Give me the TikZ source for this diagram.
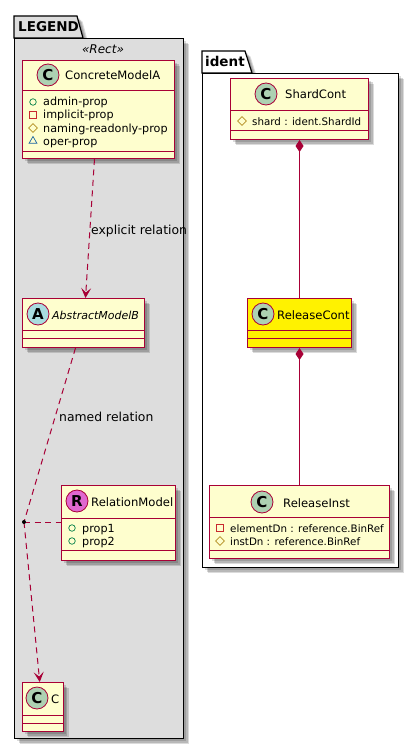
\documentclass[tikz,border=0pt]{standalone}
\usepackage{fontspec}
\setmainfont{DejaVu Sans}
\usepackage{xcolor}
\usetikzlibrary{arrows.meta,positioning,calc,shapes.geometric,shadows}
\definecolor{umlred}{HTML}{A80036}
\definecolor{umlcream}{HTML}{FEFECE}
\definecolor{pkggray}{HTML}{DDDDDD}
\definecolor{spotgreen}{HTML}{ADD1B2}
\definecolor{spotblue}{HTML}{A9DCDF}
\definecolor{spotpink}{HTML}{DF68CF}
\definecolor{iconpublic}{HTML}{038048}
\definecolor{iconprivate}{HTML}{C82930}
\definecolor{iconprotected}{HTML}{B38D22}
\definecolor{iconpackage}{HTML}{1963A0}
\tikzset{
  softshadow/.style={
    drop shadow={shadow xshift=5.5pt,shadow yshift=-5.5pt,fill=black,opacity=.14},
    drop shadow={shadow xshift=4pt,shadow yshift=-4pt,fill=black,opacity=.16},
    drop shadow={shadow xshift=2.5pt,shadow yshift=-2.5pt,fill=black,opacity=.14}},
  pkgbox/.style={draw=black,line width=1.2pt,inner sep=0pt,anchor=north west,softshadow},
  pkgtab/.style={draw=black,line width=1.2pt,softshadow},
  pkgtitle/.style={anchor=base west,inner sep=0pt,font=\fontsize{13.5}{16}\selectfont\bfseries},
  classbox/.style={draw=umlred,fill=umlcream,line width=1pt,inner sep=0pt,anchor=north west,softshadow},
  classline/.style={draw=umlred,line width=1pt},
  spot/.style={circle,draw=umlred,line width=.8pt,minimum size=22pt,inner sep=0pt,fill=spotgreen,
    font=\fontsize{15}{17}\selectfont\bfseries},
  classtitle/.style={anchor=base west,inner sep=0pt,font=\fontsize{11.6}{14}\selectfont},
  membertext/.style={anchor=base west,inner sep=0pt,font=\fontsize{11.2}{13}\selectfont},
  reftext/.style={font=\fontsize{10.3}{13}\selectfont},
  rellabel/.style={anchor=base west,inner sep=0pt,font=\fontsize{12.4}{15}\selectfont},
  iconplus/.style={circle,draw=iconpublic,line width=.7pt,minimum size=6.5pt,inner sep=0pt},
  iconminus/.style={rectangle,draw=iconprivate,line width=.7pt,minimum size=6.5pt,inner sep=0pt},
  iconhash/.style={diamond,draw=iconprotected,line width=.7pt,minimum size=9pt,inner sep=0pt},
  icontilde/.style={regular polygon,regular polygon sides=3,draw=iconpackage,line width=.7pt,
    minimum size=9pt,inner sep=0pt},
  reldash/.style={draw=umlred,line width=1pt,dash pattern=on 6pt off 4.5pt},
  relarrow/.style={reldash,-{Stealth[length=10pt,width=10pt,inset=4.5pt,umlred]}},
  relcompose/.style={draw=umlred,line width=1pt,{Diamond[length=12pt,width=8pt,umlred,fill=umlred]}-},
  reldot/.style={circle,fill=black,minimum size=4pt,inner sep=0pt}
}
\newcommand{\sepline}[2]{\draw[classline] (#1.west |- 0,#2) -- (#1.east |- 0,#2);}
\newcommand{\memberrow}[6][]{
  \node[#2] (#3icon) at (#4,#5) {};
  \node[membertext,#1] (#3) at (#4+10,#5+4) {#6};
}
\begin{document}
\begin{tikzpicture}[x=1pt,y=-1pt]
  \useasboundingbox (0,0) rectangle (418,749);

  % LEGEND package
  \path[pkgtab,fill=pkggray] (14,38) -- (14,16) -- (77,16) -- (83,38) -- cycle;
  \node[pkgbox,fill=pkggray,minimum width=169pt,minimum height=700pt] (legend) at (14,38) {};
  \node[pkgtitle] (legendtitle) at (18,32) {LEGEND};
  \node[anchor=base,inner sep=0pt,font=\fontsize{12}{14}\selectfont\itshape] (legendstereo) at (103,54) {«Rect»};

  \node[classbox,minimum width=152pt,minimum height=98pt] (concrete) at (22,60) {};
  \sepline{concrete}{91}
  \sepline{concrete}{151}
  \node[spot] (concretespot) at (48,75) {C};
  \node[classtitle] (concretetitle) at (65,80) {ConcreteModelA};
  \memberrow{iconplus}{adminprop}{33}{102}{admin-prop}
  \memberrow{iconminus}{implicitprop}{33}{115}{implicit-prop}
  \memberrow{iconhash}{namingprop}{33}{128}{naming-readonly-prop}
  \memberrow{icontilde}{operprop}{33}{141}{oper-prop}

  \node[classbox,minimum width=122pt,minimum height=49pt] (abstract) at (22,298) {};
  \sepline{abstract}{330}
  \sepline{abstract}{338}
  \node[spot,fill=spotblue] (abstractspot) at (38,314) {A};
  \node[classtitle,font=\fontsize{11}{14}\selectfont\itshape] (abstracttitle) at (52,319) {AbstractModelB};

  \node[classbox,minimum width=114pt,minimum height=75pt] (relation) at (61,485) {};
  \sepline{relation}{518}
  \sepline{relation}{550}
  \node[spot,fill=spotpink] (relationspot) at (77,501) {R};
  \node[classtitle] (relationtitle) at (91,506) {RelationModel};
  \memberrow{iconplus}{propone}{72}{528}{prop1}
  \memberrow{iconplus}{proptwo}{72}{541}{prop2}

  \node[classbox,minimum width=40.5pt,minimum height=49pt] (cclass) at (22,682) {};
  \sepline{cclass}{715}
  \sepline{cclass}{723}
  \node[spot] (cspot) at (37,698) {C};
  \node[classtitle] (ctitle) at (51,703) {C};

  \coordinate (joint) at (24,522);
  \draw[relarrow] ([xshift=-4pt]concrete.south) -- ([xshift=2pt]abstract.north);
  \draw[reldash] ([xshift=-8pt]abstract.south) -- (joint);
  \draw[reldash] (joint) -- (relation.west |- joint);
  \draw[relarrow] (joint) -- ([xshift=-3pt]cclass.north);
  \node[reldot] (jointdot) at (joint) {};
  \node[rellabel] (explicitlabel) at (91,234) {explicit relation};
  \node[rellabel] (namedlabel) at (59,421) {named relation};

  % ident package
  \path[pkgtab,fill=white] (202,73) -- (202,51) -- (245,51) -- (252,73) -- cycle;
  \node[pkgbox,fill=white,minimum width=196pt,minimum height=494pt] (ident) at (202,73) {};
  \node[pkgtitle] (identtitle) at (205,67) {ident};

  \node[classbox,minimum width=138pt,minimum height=61pt] (shard) at (230,78) {};
  \sepline{shard}{111}
  \sepline{shard}{131}
  \node[spot] (shardspot) at (266,94) {C};
  \node[classtitle] (shardtitle) at (285,99) {ShardCont};
  \memberrow[reftext]{iconhash}{shardprop}{242}{121}{shard : ident.ShardId}

  \node[classbox,fill=yellow,minimum width=104pt,minimum height=49pt] (relcont) at (247,298) {};
  \sepline{relcont}{330}
  \sepline{relcont}{338}
  \node[spot] (relcontspot) at (263,314) {C};
  \node[classtitle] (relconttitle) at (277,319) {ReleaseCont};

  \node[classbox,minimum width=180pt,minimum height=73pt] (relinst) at (209,485) {};
  \sepline{relinst}{517}
  \sepline{relinst}{550}
  \node[spot] (relinstspot) at (262,502) {C};
  \node[classtitle] (relinsttitle) at (283,507) {ReleaseInst};
  \memberrow[reftext]{iconminus}{elementprop}{220}{528}{elementDn : reference.BinRef}
  \memberrow[reftext]{iconhash}{instprop}{220}{541}{instDn : reference.BinRef}

  \draw[relcompose] (shard.south) -- (relcont.north);
  \draw[relcompose] (relcont.south) -- (relinst.north);
\end{tikzpicture}
\end{document}
